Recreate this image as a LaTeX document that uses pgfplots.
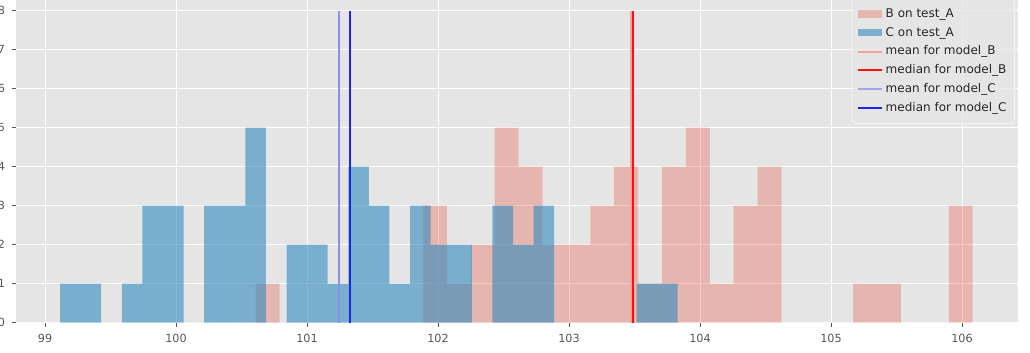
\documentclass[border=0pt]{standalone}
\usepackage{fontspec}
\setmainfont{DejaVu Sans}
\usepackage{pgfplots}
\pgfplotsset{compat=1.18}
\definecolor{ggbg}{HTML}{E5E5E5}
\definecolor{ggred}{HTML}{E24A33}
\definecolor{ggblue}{HTML}{348ABD}
\definecolor{tickgray}{HTML}{555555}
\definecolor{medred}{HTML}{FF1010}
\definecolor{medblue}{HTML}{1828F0}
\definecolor{meanblue}{HTML}{8C8CF2}
\definecolor{meanred}{HTML}{F2A59C}
\begin{document}
\begin{tikzpicture}
\path[use as bounding box] (-8pt,-15.15pt) rectangle (507pt,161.35pt);
\clip (-8pt,-15.15pt) rectangle (507pt,161.35pt);
\begin{axis}[
  at={(0pt,0pt)}, anchor=south west, scale only axis,
  width=501pt, height=163.8pt,
  xmin=98.7786, xmax=106.4275, ymin=0, ymax=8.4,
  axis background/.style={fill=ggbg},
  axis line style={draw=none},
  grid=major, grid style={white, line width=0.5pt},
  xtick={99,100,101,102,103,104,105,106}, ytick={0,1,2,3,4,5,6,7,8},
  tick pos=left,
  tick align=outside, major tick length=2pt,
  tick style={tickgray, line width=0.5pt},
  ticklabel style={font=\fontsize{5.6}{6}\selectfont, text=tickgray},
  /pgf/number format/assume math mode=true,
  legend cell align=left,
  legend style={at={(0.997,0.991)}, anchor=north east,
    fill=ggbg, fill opacity=0.8, text opacity=1,
    draw=white!55!ggbg, line width=0.5pt, rounded corners=2pt,
    font=\fontsize{6}{7}\selectfont, text=black!85,
    row sep=1.12pt, inner xsep=2.75pt, inner ysep=3.5pt,
    nodes={inner sep=1.2pt, text height=4.6pt, text depth=1.3pt}},
]
\addplot[ybar interval, fill=ggred, fill opacity=0.3, draw=none,
  legend image code/.code={\fill[sharp corners, ggred, fill opacity=0.3] (0pt,-1.9pt) rectangle (12pt,1.9pt);}]
  coordinates {(100.6084,1) (100.7908,0) (100.9733,0) (101.1557,0) (101.3382,0) (101.5206,0) (101.7030,0) (101.8855,3) (102.0679,1) (102.2504,2) (102.4328,5) (102.6152,4) (102.7977,2) (102.9801,2) (103.1626,3) (103.3450,4) (103.5274,1) (103.7099,4) (103.8923,5) (104.0748,1) (104.2572,3) (104.4396,4) (104.6221,0) (104.8045,0) (104.9870,0) (105.1694,1) (105.3518,1) (105.5343,0) (105.7167,0) (105.8992,3) (106.0816,0)};
\addlegendentry{B on test\_A}
\addplot[ybar interval, fill=ggblue, fill opacity=0.6, draw=none,
  legend image code/.code={\fill[sharp corners, ggblue, fill opacity=0.6] (0pt,-1.9pt) rectangle (12pt,1.9pt);}]
  coordinates {(99.1145,1) (99.2717,1) (99.4289,0) (99.5860,1) (99.7432,3) (99.9004,3) (100.0576,0) (100.2148,3) (100.3719,3) (100.5291,5) (100.6863,0) (100.8435,2) (101.0007,2) (101.1578,1) (101.3150,4) (101.4722,3) (101.6294,1) (101.7866,3) (101.9437,2) (102.1009,2) (102.2581,0) (102.4153,3) (102.5725,2) (102.7296,3) (102.8868,0) (103.0440,0) (103.2012,0) (103.3584,0) (103.5155,1) (103.6727,1) (103.8299,0)};
\addlegendentry{C on test\_A}
\addplot[meanred, line width=1pt,
  legend image code/.code={\draw[sharp corners, meanred, line width=1pt] (0pt,0pt) -- (12pt,0pt);}]
  coordinates {(103.475,0) (103.475,8)};
\addlegendentry{mean for model\_B}
\addplot[medred, line width=1pt,
  legend image code/.code={\draw[sharp corners, medred, line width=1pt] (0pt,0pt) -- (12pt,0pt);}]
  coordinates {(103.49,0) (103.49,8)};
\addlegendentry{median for model\_B}
\addplot[meanblue, line width=0.9pt,
  legend image code/.code={\draw[sharp corners, meanblue!75!ggbg, line width=0.9pt] (0pt,0pt) -- (12pt,0pt);}]
  coordinates {(101.247,0) (101.247,8)};
\addlegendentry{mean for model\_C}
\addplot[medblue, line width=1pt,
  legend image code/.code={\draw[sharp corners, medblue, line width=1pt] (0pt,0pt) -- (12pt,0pt);}]
  coordinates {(101.331,0) (101.331,8)};
\addlegendentry{median for model\_C}
\end{axis}
\end{tikzpicture}
\end{document}
